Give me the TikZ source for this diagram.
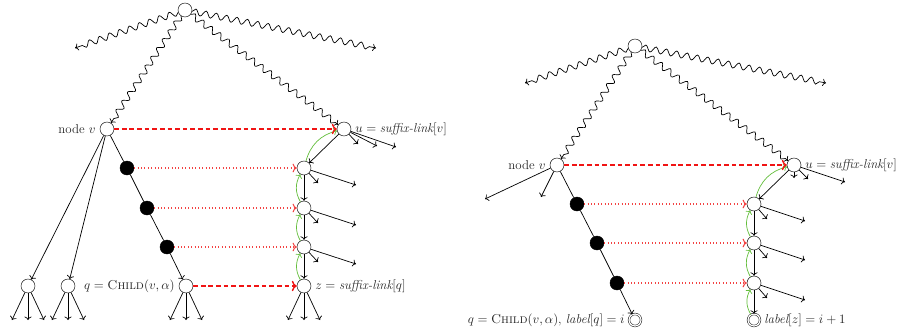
\documentclass[tikz,border=0pt]{standalone}
\usepackage{amsmath,amssymb}
\usetikzlibrary{arrows.meta,decorations.pathmorphing}
\definecolor{slred}{RGB}{240,20,20}
\definecolor{upgreen}{RGB}{100,190,60}
\tikzset{
  vtx/.style={circle, draw, fill=white, minimum size=0.42cm, inner sep=0pt},
  full/.style={vtx, fill=black},
  dbl/.style={vtx, double, double distance=1.1pt, minimum size=0.36cm},
  edge/.style={->, semithick},
  wavy/.style={->, semithick, decorate,
               decoration={snake, amplitude=2.6pt, segment length=9pt, post length=3pt}},
  sl/.style={->, color=slred, line width=1.2pt, dash pattern=on 4pt off 2.5pt},
  slp/.style={->, color=slred!80, line width=0.9pt, dotted},
  grn/.style={->, upgreen, semithick},
  every label/.style={font=\fontsize{11}{13}\selectfont, text=black!85},
}
% arrows out of a node, ends named #1f1, #1f2, ...
\newcommand{\fan}[2]{\foreach \dx/\dy [count=\n] in {#2}{
    \draw[edge] (#1) -- ++(\dx,\dy) coordinate (#1f\n);}}

\begin{document}
\begin{tikzpicture}[x=0.03cm, y=-0.03cm]
  \useasboundingbox (0,0) rectangle (904,332);
  % left
  \begin{scope}
    \node[vtx] (lr) at (185,10) {};
    \coordinate (lwl) at (75,48);
    \coordinate (lwr) at (376,48);
    \node[vtx, label=left:{node $v$}] (lv) at (107,129) {};
    \node[vtx, label=right:{$u = \textit{suffix-link}[v]$}] (lu) at (344,129) {};
    \node[vtx] (lk1) at (28,286) {};
    \node[vtx] (lk2) at (68,286) {};
    \node[full] (lb1) at (127,168) {};
    \node[full] (lb2) at (147,208) {};
    \node[full] (lb3) at (167,247) {};
    \node[vtx, label=left:{$q = \textsc{Child}(v,\alpha)$}] (lq) at (186,286) {};
    \node[vtx] (lc1) at (304,168) {};
    \node[vtx] (lc2) at (304,208) {};
    \node[vtx] (lc3) at (304,247) {};
    \node[vtx, label=right:{$z = \textit{suffix-link}[q]$}] (lz) at (304,286) {};
    \draw[wavy] (lr) -- (lwl);
    \draw[wavy] (lr) -- (lwr);
    \draw[wavy] (lr) -- (lv);
    \draw[wavy] (lr) -- (lu);
    \draw[edge] (lv) -- (lk1);
    \draw[edge] (lv) -- (lk2);
    \draw[edge] (lv) -- (lb1) -- (lb2) -- (lb3) -- (lq);
    \draw[edge] (lu) -- (lc1);
    \draw[edge] (lc1) -- (lc2);
    \draw[edge] (lc2) -- (lc3);
    \draw[edge] (lc3) -- (lz);
    \draw[grn] (lc1) to[bend left=30] (lu);
    \draw[grn] (lc2) to[bend left=30] (lc1);
    \draw[grn] (lc3) to[bend left=30] (lc2);
    \draw[grn] (lz) to[bend left=30] (lc3);
    \draw[sl] (lv) -- (lu);
    \draw[sl] (lq) -- (lz);
    \foreach \i in {1,2,3}{\draw[slp] (lb\i) -- (lc\i);}
    \fan{lu}{14/15,33/17,52/18}
    \foreach \i in {1,2,3}{\fan{lc\i}{14/15,52/17}}
    \foreach \t in {lk1,lk2,lq,lz}{\fan{\t}{-16/34,0/34,16/34}}
  \end{scope}
  % right
  \begin{scope}[shift={(450,36)}]
    \node[vtx] (rr) at (185,10) {};
    \coordinate (rwl) at (75,47);
    \coordinate (rwr) at (376,47);
    \node[vtx, label=left:{node $v$}] (rv) at (107,129) {};
    \node[vtx, label=right:{$u = \textit{suffix-link}[v]$}] (ru) at (344,129) {};
    \node[full] (rb1) at (127,168) {};
    \node[full] (rb2) at (147,207) {};
    \node[full] (rb3) at (167,247) {};
    \node[dbl, label=left:{$q = \textsc{Child}(v,\alpha)$, $\textit{label}[q] = i$}] (rq) at (185,284) {};
    \node[vtx] (rc1) at (304,168) {};
    \node[vtx] (rc2) at (304,207) {};
    \node[vtx] (rc3) at (304,247) {};
    \node[dbl, label=right:{$\textit{label}[z] = i+1$}] (rz) at (304,284) {};
    \draw[wavy] (rr) -- (rwl);
    \draw[wavy] (rr) -- (rwr);
    \draw[wavy] (rr) -- (rv);
    \draw[wavy] (rr) -- (ru);
    \draw[edge] (rv) -- (rb1) -- (rb2) -- (rb3) -- (rq);
    \draw[edge] (ru) -- (rc1);
    \draw[edge] (rc1) -- (rc2);
    \draw[edge] (rc2) -- (rc3);
    \draw[edge] (rc3) -- (rz);
    \draw[grn] (rc1) to[bend left=30] (ru);
    \draw[grn] (rc2) to[bend left=30] (rc1);
    \draw[grn] (rc3) to[bend left=30] (rc2);
    \draw[grn] (rz) to[bend left=30] (rc3);
    \draw[sl] (rv) -- (ru);
    \foreach \i in {1,2,3}{\draw[slp] (rb\i) -- (rc\i);}
    \fan{rv}{-72/34,-16/32}
    \fan{ru}{0/13,14/14,51/17}
    \foreach \i in {1,2,3}{\fan{rc\i}{13/15,51/17}}
  \end{scope}
\end{tikzpicture}
\end{document}
